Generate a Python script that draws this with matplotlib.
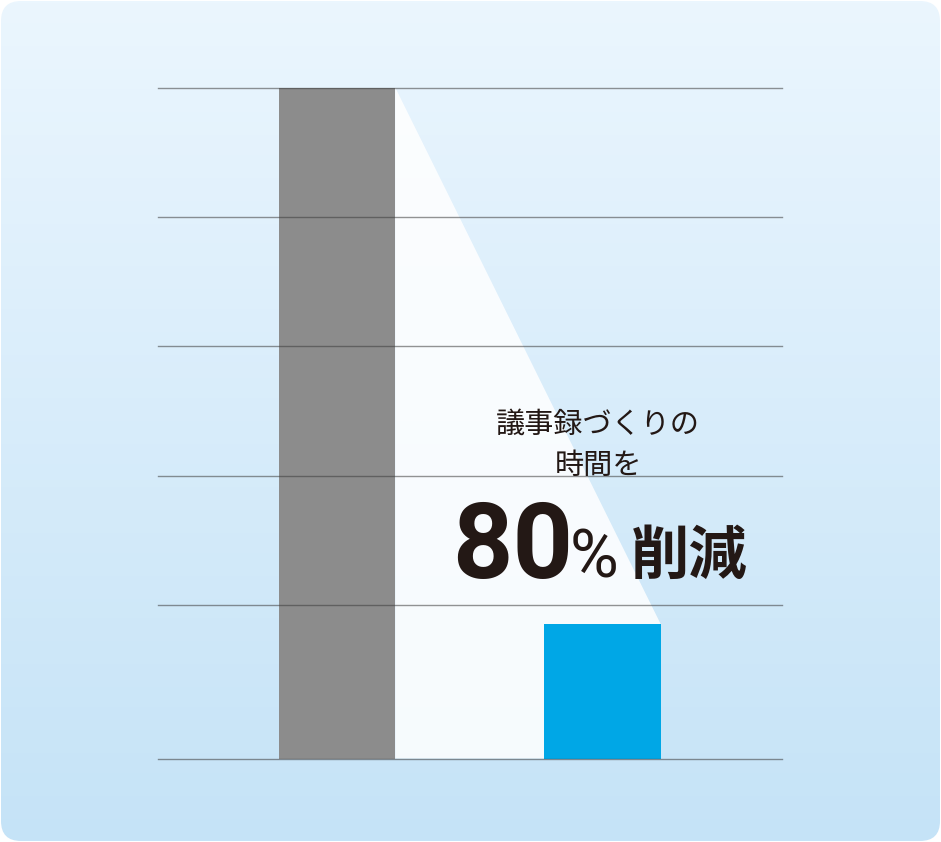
import numpy as np
import matplotlib
matplotlib.use("Agg")
import matplotlib.pyplot as plt
from matplotlib import font_manager
from matplotlib.patches import FancyBboxPatch

# data
categories = ["従来", "導入後"]
values = [100, 20]
bar_colors = ["#8c8c8c", "#00a7e6"]
grid_values = [0, 22.9, 42.1, 61.5, 80.7, 100]
headline = ["議事録づくりの", "時間を"]
big_number = "80"
big_unit = "%"
big_word = "削減"

installed = {f.name for f in font_manager.fontManager.ttflist}
num_font = "Liberation Sans Narrow" if "Liberation Sans Narrow" in installed else "Roboto"
jp_font = ["Noto Sans CJK JP", "DejaVu Sans"]

W, H = 941, 842
fig = plt.figure(figsize=(W / 100, H / 100), dpi=100)
fig.patch.set_facecolor("white")

# background panel with vertical gradient and rounded corners
bg = fig.add_axes([0, 0, 1, 1])
bg.set_xlim(0, W)
bg.set_ylim(0, H)
bg.axis("off")
top = np.array([235, 246, 254]) / 255
bottom = np.array([197, 227, 247]) / 255
t = np.linspace(0, 1, 256)[:, None]
grad = (bottom * t + top * (1 - t))[:, None, :]
im = bg.imshow(grad, extent=[0, W, 0, H], aspect="auto", origin="upper")
panel = FancyBboxPatch((1, 1), W - 2, H - 2, boxstyle="round,pad=0,rounding_size=20",
                       transform=bg.transData, facecolor="none", edgecolor="none")
bg.add_patch(panel)
im.set_clip_path(panel)

# chart axes
ax = fig.add_axes([158 / W, (H - 758.5) / H, (782 - 158) / W, (758.5 - 87.5) / H])
ax.patch.set_alpha(0)
x = np.arange(len(categories))
w = 0.439
ax.set_xlim(-0.674, 1.676)
ax.set_ylim(0, 100)

# white wedge showing the reduction
xs = [x[0] + w / 2, x[1] + w / 2, x[1] + w / 2, x[0] + w / 2]
ys = [values[0], values[1], 0, 0]
ax.fill(xs, ys, color="white", alpha=0.85, lw=0, zorder=1)

ax.bar(x, values, width=w, color=bar_colors, zorder=3)
for g in grid_values:
    ax.axhline(g, color="#3c3c3c", alpha=0.55, lw=1.0, zorder=4, clip_on=False)

for s in ax.spines.values():
    s.set_visible(False)
ax.set_xticks([])
ax.set_yticks([])

# annotation text
fig.text(598 / W, (H - 425) / H, headline[0], family=jp_font, fontsize=21,
         color="#231815", ha="center", va="center")
fig.text(598 / W, (H - 466) / H, headline[1], family=jp_font, fontsize=21,
         color="#231815", ha="center", va="center")
base_y = (H - 578) / H
fig.text(452 / W, base_y, big_number, family=[num_font, "DejaVu Sans"], fontsize=76,
         fontweight="bold", color="#231815", ha="left", va="baseline")
fig.text(570 / W, base_y, big_unit, family=[num_font, "DejaVu Sans"], fontsize=48,
         color="#231815", ha="left", va="baseline")
fig.text(631 / W, (H - 574) / H, big_word, family=jp_font, fontsize=42,
         fontweight="bold", color="#231815", ha="left", va="baseline")

fig.savefig("out.png", dpi=100)
